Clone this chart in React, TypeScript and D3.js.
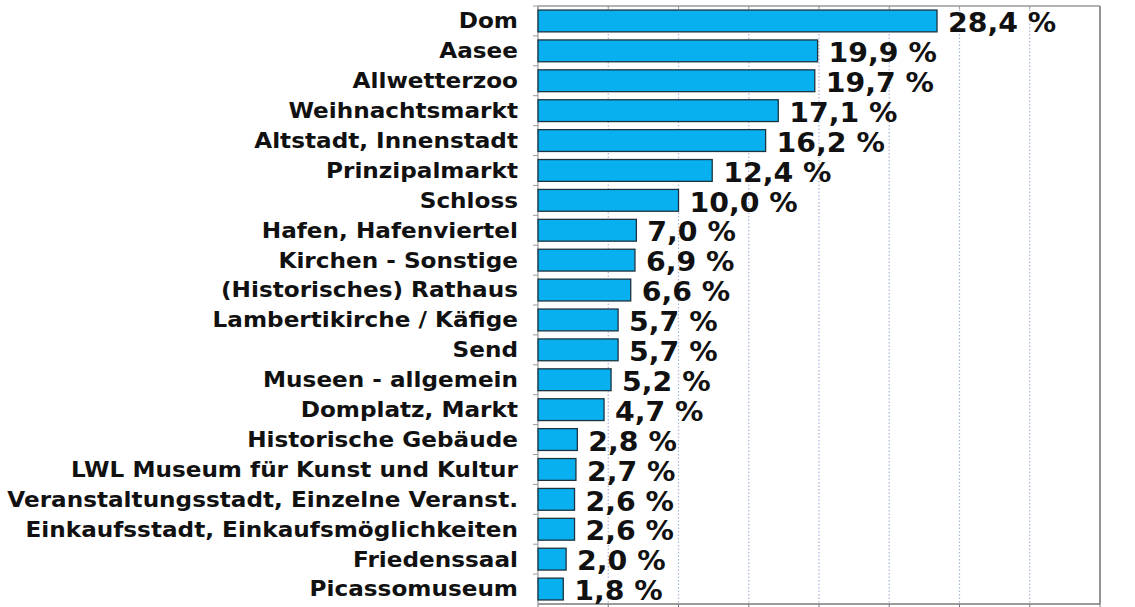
import React from 'react';
import * as d3 from 'd3';

const categories = [
  'Dom', 'Aasee', 'Allwetterzoo', 'Weihnachtsmarkt', 'Altstadt, Innenstadt',
  'Prinzipalmarkt', 'Schloss', 'Hafen, Hafenviertel', 'Kirchen - Sonstige',
  '(Historisches) Rathaus', 'Lambertikirche / Käfige', 'Send', 'Museen - allgemein',
  'Domplatz, Markt', 'Historische Gebäude', 'LWL Museum für Kunst und Kultur',
  'Veranstaltungsstadt, Einzelne Veranst.', 'Einkaufsstadt, Einkaufsmöglichkeiten',
  'Friedenssaal', 'Picassomuseum',
];
const values = [28.4, 19.9, 19.7, 17.1, 16.2, 12.4, 10.0, 7.0, 6.9, 6.6, 5.7, 5.7, 5.2, 4.7, 2.8, 2.7, 2.6, 2.6, 2.0, 1.8];
const xTicks = [0, 5, 10, 15, 20, 25, 30, 35, 40];

const W = 1135;
const H = 607;
const margin = { top: 6, right: 35, bottom: 3, left: 538 };
const FONT = '"DejaVu Sans", Verdana, sans-serif';

export default function App() {
  const innerW = W - margin.left - margin.right;
  const innerH = H - margin.top - margin.bottom;

  const x = d3.scaleLinear().domain([0, 40]).range([0, innerW]);
  const y = d3.scaleBand<string>().domain(categories).range([0, innerH]).paddingInner(0.27).paddingOuter(0.135);
  const band = d3.scaleBand<string>().domain(categories).range([0, innerH]);
  const fmt = (v: number) => v.toFixed(1).replace('.', ',') + ' %';

  return (
    <svg width={W} height={H} style={{ position: 'absolute', left: 0, top: 0, background: '#fff' }}>
      <g transform={`translate(${margin.left},${margin.top})`}>
        {/* dotted gridlines */}
        {xTicks.slice(1, -1).map(t => (
          <line key={t} x1={x(t)} x2={x(t)} y1={0} y2={innerH}
            stroke="#a9b6dc" strokeWidth={1.2} strokeDasharray="1.5,2" />
        ))}
        {/* frame */}
        <line x1={0} x2={innerW} y1={0} y2={0} stroke="#9a9a9a" strokeWidth={1.5} />
        <line x1={innerW} x2={innerW} y1={0} y2={innerH} stroke="#6f6f6f" strokeWidth={1.5} />
        <line x1={0} x2={innerW} y1={innerH} y2={innerH} stroke="#7a7a7a" strokeWidth={1.5} />
        <line x1={0} x2={0} y1={0} y2={innerH} stroke="#9a9a9a" strokeWidth={1.2} />
        {/* x ticks */}
        {xTicks.map(t => (
          <g key={t}>
            <line x1={x(t)} x2={x(t)} y1={innerH} y2={innerH + 4} stroke="#7a7a7a" />
            <line x1={x(t)} x2={x(t)} y1={0} y2={3} stroke="#9a9a9a" />
          </g>
        ))}
        {/* y ticks between categories */}
        {categories.map(c => (
          <line key={c} x1={-5} x2={0} y1={band(c)!} y2={band(c)!} stroke="#9a9a9a" />
        ))}
        {/* bars */}
        {categories.map((c, i) => (
          <rect key={c} x={0} y={y(c)!} width={x(values[i])} height={y.bandwidth()}
            fill="#08b0f0" stroke="#1d3440" strokeWidth={1.3} />
        ))}
        {/* category labels */}
        {categories.map(c => (
          <text key={c} transform={`translate(-20,${band(c)! + band.bandwidth() / 2}) scale(1.13,1)`} dy="0.36em"
            textAnchor="end" fontFamily={FONT} fontWeight="bold" fontSize={20.5} fill="#111">{c}</text>
        ))}
        {/* value labels */}
        {categories.map((c, i) => (
          <text key={c} transform={`translate(${x(values[i]) + 11},${band(c)! + band.bandwidth() / 2 + 1.5}) scale(1.05,1)`} dy="0.36em"
            fontFamily={FONT} fontWeight="bold" fontSize={27} fill="#111">{fmt(values[i])}</text>
        ))}
      </g>
    </svg>
  );
}
